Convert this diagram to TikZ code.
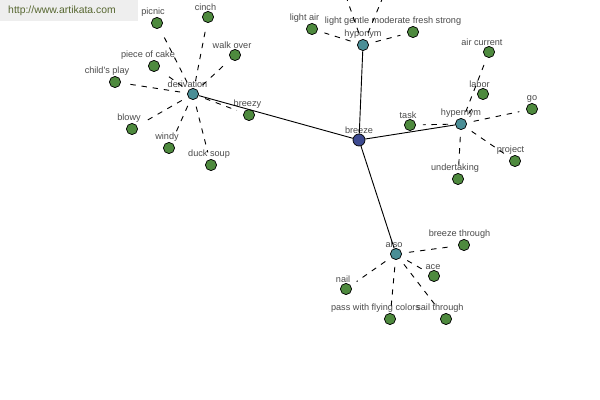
\documentclass[tikz,border=0pt]{standalone}
\usepackage{fontspec}
\setmainfont{Liberation Sans}
\definecolor{leafgreen}{HTML}{4E8A3E}
\definecolor{hubteal}{HTML}{4A8E96}
\definecolor{rootblue}{HTML}{3D4A90}
\definecolor{lbltext}{HTML}{4A4A4A}
\definecolor{markgray}{HTML}{EEEEEE}
\definecolor{markolive}{HTML}{56662F}
\begin{document}
\begin{tikzpicture}[x=0.025cm, y=-0.025cm,
    word/.style={circle, draw=black, line width=0.5pt, minimum size=0.28cm, inner sep=0pt, label distance=1pt},
    leaf/.style={word, fill=leafgreen},
    hub/.style={word, fill=hubteal},
    root/.style={word, fill=rootblue, minimum size=0.3cm},
    lbl/.style={font=\fontsize{6.5}{7}\selectfont, text=lbltext, inner sep=0pt},
    rel/.style={line width=0.65pt, dash pattern=on 3.8pt off 4.2pt, shorten <=5pt, shorten >=5pt},
    link/.style={line width=0.65pt}
]
    \useasboundingbox (0,0) rectangle (600,400);
    \fill[white] (0,0) rectangle (600,400);
    \clip (0,0) rectangle (600,400);

    % Hubs
    \node[root, label={[lbl]above:breeze}] (breeze) at (359,140) {};
    \node[hub, label={[lbl, xshift=-3.9pt]above:derivation}] (derivation) at (193,94) {};
    \node[hub, label={[lbl]above:hyponym}] (hyponym) at (363,45) {};
    \node[hub, label={[lbl]above:hypernym}] (hypernym) at (461,124) {};
    \node[hub, label={[lbl, xshift=-1.4pt]above:also}] (also) at (396,254) {};

    % Derivation words
    \node[leaf, label={[lbl, xshift=-2.8pt]above:picnic}] (picnic) at (157,23) {};
    \node[leaf, label={[lbl, xshift=-1.8pt]above:cinch}] (cinch) at (208,17) {};
    \node[leaf, label={[lbl, xshift=-2.1pt]above:walk over}] (walkover) at (235,55) {};
    \node[leaf, label={[lbl, xshift=-4.3pt]above:piece of cake}] (pieceofcake) at (154,66) {};
    \node[leaf, label={[lbl, xshift=-5.7pt]above:child\textquotesingle s play}] (childsplay) at (115,82) {};
    \node[leaf, label={[lbl, xshift=-1.1pt]above:breezy}] (breezy) at (249,115) {};
    \node[leaf, label={[lbl, xshift=-2.1pt]above:blowy}] (blowy) at (132,129) {};
    \node[leaf, label={[lbl, xshift=-1.4pt]above:windy}] (windy) at (169,148) {};
    \node[leaf, label={[lbl, xshift=-1.4pt]above:duck soup}] (ducksoup) at (211,165) {};

    % Hyponym words
    \node[leaf, label={[lbl, xshift=-5.3pt]above:light air}] (lightair) at (312,29) {};
    \node[leaf, label={[lbl, xshift=-14.2pt]above:light gentle moderate fresh strong}] (windscale) at (413,32) {};
    \coordinate (upleft) at (342,-15);
    \coordinate (upright) at (388,-15);

    % Hypernym words
    \node[leaf, label={[lbl, xshift=-5pt]above:air current}] (aircurrent) at (489,52) {};
    \node[leaf, label={[lbl, xshift=-2.5pt]above:labor}] (labor) at (483,94) {};
    \node[leaf, label={[lbl]above:go}] (go) at (532,109) {};
    \node[leaf, label={[lbl, xshift=-1.4pt]above:task}] (task) at (410,125) {};
    \node[leaf, label={[lbl, xshift=-3.2pt]above:project}] (project) at (515,161) {};
    \node[leaf, label={[lbl, xshift=-2.1pt]above:undertaking}] (undertaking) at (458,179) {};

    % Also words
    \node[leaf, label={[lbl, xshift=-3.2pt]above:breeze through}] (breezethrough) at (464,245) {};
    \node[leaf, label={[lbl, xshift=-0.7pt]above:ace}] (ace) at (434,276) {};
    \node[leaf, label={[lbl, xshift=-2.1pt]above:nail}] (nail) at (346,289) {};
    \node[leaf, label={[lbl, xshift=-10.3pt]above:pass with flying colors}] (passwith) at (390,319) {};
    \node[leaf, label={[lbl, xshift=-4.3pt]above:sail through}] (sailthrough) at (446,319) {};

    % Links
    \foreach \h in {derivation, hyponym, hypernym, also}
        \draw[link] (breeze) -- (\h);
    \foreach \w in {picnic, cinch, walkover, pieceofcake, childsplay, breezy, blowy, windy, ducksoup}
        \draw[rel] (derivation) -- (\w);
    \foreach \w in {lightair, windscale, upleft, upright}
        \draw[rel] (hyponym) -- (\w);
    \foreach \w in {aircurrent, labor, go, task, project, undertaking}
        \draw[rel] (hypernym) -- (\w);
    \foreach \w in {breezethrough, ace, nail, passwith, sailthrough}
        \draw[rel] (also) -- (\w);

    % Watermark
    \fill[markgray] (0,0) rectangle (138,21);
    \node[text=markolive, font=\fontsize{7.4}{8}\selectfont, inner sep=0pt] (site) at (62,11) {http://www.artikata.com};
\end{tikzpicture}
\end{document}
